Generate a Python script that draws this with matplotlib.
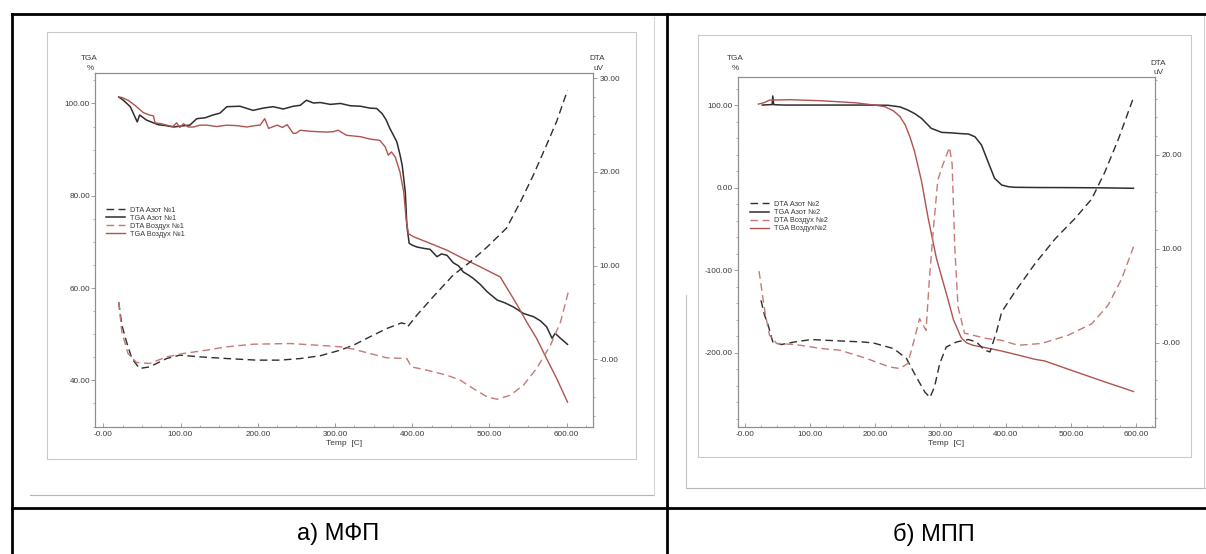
import matplotlib
matplotlib.use("Agg")
import matplotlib.pyplot as plt
from matplotlib.lines import Line2D
from matplotlib.ticker import FixedLocator, FixedFormatter, MultipleLocator

plt.rcParams['font.family'] = ['Liberation Sans', 'DejaVu Sans']

W, H = 1206, 554

# --- panel a) MFP : values ---
t_tga_n1 = [20, 26, 35, 44, 47, 56, 71, 81, 91, 100, 112, 121, 132, 142, 151, 160, 177, 194, 207, 220,
            233, 246, 255, 263, 272, 281, 294, 307, 320, 333, 345, 354, 361, 366, 371, 376, 380, 384, 387, 391,
            393, 396, 400, 406, 415, 423, 432, 438, 445, 453, 460, 466, 473, 479, 488, 497, 510, 520, 531, 544,
            557, 566, 574, 581, 585, 592, 601]
tga_n1 = [101.4, 100.7, 99.3, 96.0, 97.5, 96.4, 95.4, 95.2, 94.9, 95.1, 95.3, 96.7, 96.9, 97.5, 97.9, 99.3,
          99.4, 98.5, 99.0, 99.3, 98.8, 99.4, 99.6, 100.7, 100.1, 100.2, 99.8, 100.0, 99.5, 99.4, 99.0, 98.9,
          97.8, 96.5, 94.6, 93.0, 91.7, 89.0, 86.6, 80.8, 73.6, 69.7, 69.3, 68.9, 68.6, 68.4, 66.8, 67.4, 67.1,
          65.5, 64.8, 63.5, 62.8, 62.1, 60.8, 59.2, 57.4, 56.8, 55.9, 54.5, 53.8, 52.9, 51.6, 49.1, 50.2, 49.1,
          47.8]

t_tga_a1 = [20, 24, 32, 41, 52, 60, 65, 67, 75, 82, 90, 95, 99, 104, 110, 117, 125, 134, 147, 160, 173, 186,
            196, 203, 209, 214, 225, 232, 238, 246, 250, 255, 266, 276, 289, 298, 304, 315, 333, 345, 358, 365,
            369, 373, 378, 384, 389, 392, 395, 402, 423, 445, 466, 488, 501, 514, 523, 536, 548, 561, 574, 587,
            601]
tga_a1 = [101.4, 101.3, 100.7, 99.6, 98.0, 97.5, 97.3, 95.8, 95.6, 95.3, 95.0, 95.8, 94.8, 95.6, 94.9, 94.9,
          95.3, 95.3, 95.0, 95.3, 95.2, 94.9, 95.2, 95.3, 96.7, 94.6, 95.3, 94.8, 95.4, 93.5, 93.6, 94.2, 94.0,
          93.9, 93.8, 93.9, 94.2, 93.1, 92.8, 92.3, 92.0, 90.6, 88.8, 89.5, 88.4, 85.2, 80.8, 75.1, 71.8, 71.1,
          69.7, 68.2, 66.4, 64.6, 63.5, 62.4, 59.9, 56.3, 52.7, 49.1, 44.7, 40.4, 35.3]

t_dta_n1 = [20, 24, 30, 37, 47, 60, 82, 99, 125, 160, 199, 229, 255, 281, 307, 324, 345, 367, 386, 391, 394,
            406, 427, 453, 475, 497, 522, 540, 557, 574, 587, 601]
dta_n1 = [6.1, 3.7, 1.9, 0.1, -0.96, -0.79, 0.1, 0.46, 0.28, 0.1, -0.07, -0.07, 0.1, 0.4, 1.0, 1.53, 2.41,
          3.3, 3.9, 3.8, 3.48, 4.73, 6.68, 9.0, 10.4, 12.0, 14.0, 16.8, 19.7, 22.9, 25.4, 28.7]

t_dta_a1 = [20, 24, 32, 43, 60, 82, 104, 134, 160, 194, 242, 276, 307, 324, 345, 367, 393, 399, 419, 445, 462,
            479, 497, 510, 527, 544, 561, 579, 592, 602]
dta_a1 = [6.15, 2.95, 0.64, -0.32, -0.43, 0.28, 0.64, 1.0, 1.35, 1.63, 1.7, 1.53, 1.35, 1.1, 0.64, 0.18, 0.1,
          -0.79, -1.14, -1.68, -2.2, -3.1, -3.99, -4.24, -3.81, -2.74, -0.96, 1.53, 4.0, 7.2]

# --- panel b) MPP ---
t_tga_n2 = [27, 38, 42, 43, 44.5, 60, 100, 150, 190, 220, 238, 250, 261, 271, 286, 302, 317, 330, 343, 353,
            363, 373, 383, 394, 405, 414, 450, 496, 550, 596]
tga_n2 = [100, 100.5, 100.5, 111, 100.5, 100, 100, 100, 100, 99.7, 97.8, 94, 89.5, 83.9, 71.8, 66.9, 66.3,
          65.5, 64.9, 61.6, 51.6, 31.4, 11.3, 3.1, 1.0, 0.4, 0.1, 0, -0.3, -0.8]

t_tga_a2 = [21, 30, 38, 70, 118, 169, 199, 215, 228, 238, 246, 253, 260, 266, 271, 281, 294, 309, 320, 332,
            340, 350, 370, 394, 420, 445, 460, 496, 547, 596]
tga_a2 = [101.2, 103, 106, 106.5, 105.2, 102.8, 100, 98, 93, 86, 76, 62, 45, 25, 8, -36, -86, -128, -160,
          -182, -188, -191, -194, -198, -203, -208, -210, -220, -234, -247]

t_dta_n2 = [25, 30, 36, 43, 56, 77, 102, 146, 179, 197, 210, 228, 235, 248, 263, 276, 284, 291, 299, 309,
            325, 343, 355, 368, 376, 386, 394, 414, 445, 476, 506, 532, 552, 573, 596]
dta_n2 = [4.5, 3.0, 1.84, 0.07, -0.21, 0.07, 0.32, 0.17, 0.07, -0.04, -0.29, -0.64, -1.0, -1.7, -3.66, -5.26,
          -5.85, -4.72, -2.23, -0.47, 0.07, 0.32, 0.07, -0.82, -1.0, 1.13, 3.26, 5.38, 8.4, 11.06, 13.2, 15.3,
          18.15, 21.7, 26.1]

t_dta_a2 = [22, 31, 38, 49, 77, 118, 146, 187, 222, 238, 250, 261, 268, 278, 283, 289, 296, 304, 314, 318,
            322, 327, 337, 371, 394, 419, 455, 496, 532, 557, 578, 596]
dta_a2 = [7.6, 3.26, 0.78, -0.1, -0.21, -0.64, -0.82, -1.7, -2.6, -2.77, -2.23, 0.6, 2.55, 1.3, 6.63, 11.9,
          17.3, 19.0, 20.8, 19.0, 10.2, 3.8, 1.0, 0.43, 0.24, -0.29, -0.1, 0.78, 2.0, 3.97, 6.8, 10.2]

# --- ticks and labels ---
temp_ticks = [0, 100, 200, 300, 400, 500, 600]
temp_labels = ["-0.00", "100.00", "200.00", "300.00", "400.00", "500.00", "600.00"]

tga1_ticks = [40, 60, 80, 100]
tga1_labels = ["40.00", "60.00", "80.00", "100.00"]
dta1_ticks = [0, 10, 20, 30]
dta1_labels = ["-0.00", "10.00", "20.00", "30.00"]

tga2_ticks = [-200, -100, 0, 100]
tga2_labels = ["-200.00", "-100.00", "0.00", "100.00"]
dta2_ticks = [0, 10, 20]
dta2_labels = ["-0.00", "10.00", "20.00"]

legend1 = ["DTA Азот №1", "TGA Азот №1", "DTA Воздух №1", "TGA Воздух №1"]
legend2 = ["DTA Азот №2", "TGA Азот №2", "DTA Воздух №2", "TGA Воздух№2"]
captions = ["а) МФП", "б) МПП"]

BLACK = "#2e2e2e"
RED = "#b0524f"
RED_DASH = "#c47a77"
AXIS = "#8e8e8e"
SCAN = "#c9c9c9"
TXT = "#3a3a3a"


def fx(x):
    return x / W


def fy(y):
    return 1 - y / H


def line_px(fig, xs, ys, color, lw):
    fig.add_artist(Line2D([fx(x) for x in xs], [fy(y) for y in ys],
                          transform=fig.transFigure, color=color, lw=lw))


def fig_text(fig, x, y, s, size, **kw):
    fig.text(fx(x), fy(y), s, fontsize=size, ha="center", va="center", color=TXT, **kw)


def draw_panel(fig, box, xlim, tga_lim, dta_lim, tga_tk, tga_lb, tga_minor, dta_tk, dta_lb,
               series, names, leg_anchor):
    left, top, right, bottom = box
    ax = fig.add_axes([fx(left), fy(bottom), (right - left) / W, (bottom - top) / H])
    ax2 = ax.twinx()

    t_tn, tn, t_ta, ta, t_dn, dn, t_da, da = series
    h1, = ax2.plot(t_dn, dn, color=BLACK, lw=1.0, dashes=(5.5, 3.2))
    h3, = ax2.plot(t_da, da, color=RED_DASH, lw=1.0, dashes=(5.5, 3.2))
    h2, = ax.plot(t_tn, tn, color=BLACK, lw=1.1)
    h4, = ax.plot(t_ta, ta, color=RED, lw=1.0)

    ax.set_xlim(*xlim)
    ax.set_ylim(*tga_lim)
    ax2.set_ylim(*dta_lim)

    ax.xaxis.set_major_locator(FixedLocator(temp_ticks))
    ax.xaxis.set_major_formatter(FixedFormatter(temp_labels))
    ax.xaxis.set_minor_locator(MultipleLocator(25))
    ax.yaxis.set_major_locator(FixedLocator(tga_tk))
    ax.yaxis.set_major_formatter(FixedFormatter(tga_lb))
    ax.yaxis.set_minor_locator(MultipleLocator(tga_minor))
    ax2.yaxis.set_major_locator(FixedLocator(dta_tk))
    ax2.yaxis.set_major_formatter(FixedFormatter(dta_lb))
    ax2.yaxis.set_minor_locator(MultipleLocator(2))

    for a in (ax, ax2):
        for sp in a.spines.values():
            sp.set_color(AXIS)
            sp.set_linewidth(0.8)
    ax.tick_params(axis="y", which="major", direction="out", length=3, width=0.6, pad=0.6,
                   labelsize=5.9, color=AXIS, labelcolor=TXT)
    ax.tick_params(axis="y", which="minor", direction="out", length=1.6, width=0.5, color=AXIS)
    ax.tick_params(axis="x", which="major", direction="in", length=3, width=0.6, pad=3,
                   labelsize=5.9, color=AXIS, labelcolor=TXT)
    ax.tick_params(axis="x", which="minor", direction="in", length=1.6, width=0.5, color=AXIS)
    ax2.tick_params(axis="y", which="major", direction="out", length=3, width=0.6, pad=1.5,
                    labelsize=5.9, color=AXIS, labelcolor=TXT)
    ax2.tick_params(axis="y", which="minor", direction="out", length=1.6, width=0.5, color=AXIS)

    ax.set_xlabel("Temp  [C]", fontsize=6, color=TXT, labelpad=1.5)

    leg = ax2.legend([h1, h2, h3, h4], names, loc="upper left", bbox_to_anchor=leg_anchor,
                     frameon=False, fontsize=5.3, handlelength=2.6, handletextpad=0.6,
                     labelspacing=0.12, borderaxespad=0, borderpad=0)
    for txt in leg.get_texts():
        txt.set_color(TXT)
    return ax


def main():
    fig = plt.figure(figsize=(W / 100, H / 100), dpi=100)
    fig.patch.set_facecolor("white")

    # scanned page frames
    line_px(fig, [47, 636, 636, 47, 47], [32, 32, 459, 459, 32], SCAN, 0.8)
    line_px(fig, [30, 654], [495, 495], "#b5b5b5", 0.8)
    line_px(fig, [654, 654], [17, 495], "#d5d5d5", 0.8)
    line_px(fig, [698, 1191, 1191, 698, 698], [35, 35, 457, 457, 35], SCAN, 0.8)
    line_px(fig, [686, 1205], [488, 488], "#b5b5b5", 0.8)
    line_px(fig, [686, 686], [295, 488], "#c5c5c5", 0.8)
    line_px(fig, [1204, 1204], [14, 488], "#d0d0d0", 0.8)

    draw_panel(fig, (95, 73, 593, 427), (-10.7, 634), (29.9, 106.6), (-7.2, 30.55),
               tga1_ticks, tga1_labels, 5, dta1_ticks, dta1_labels,
               (t_tga_n1, tga_n1, t_tga_a1, tga_a1, t_dta_n1, dta_n1, t_dta_a1, dta_a1),
               legend1, (0.022, 0.622))
    draw_panel(fig, (738, 77, 1155, 427), (-10.3, 629), (-290, 134), (-9.0, 28.3),
               tga2_ticks, tga2_labels, 20, dta2_ticks, dta2_labels,
               (t_tga_n2, tga_n2, t_tga_a2, tga_a2, t_dta_n2, dta_n2, t_dta_a2, dta_a2),
               legend2, (0.029, 0.646))

    # axis titles
    fig_text(fig, 89, 58, "TGA", 5.9)
    fig_text(fig, 90, 68, "%", 5.9)
    fig_text(fig, 597, 58, "DTA", 5.9)
    fig_text(fig, 598, 68, "uV", 5.9)
    fig_text(fig, 735, 58, "TGA", 5.9)
    fig_text(fig, 735, 68, "%", 5.9)
    fig_text(fig, 1158, 63, "DTA", 5.9)
    fig_text(fig, 1158, 72, "uV", 5.9)

    # table borders
    line_px(fig, [12, 1206], [14, 14], "black", 2)
    line_px(fig, [12, 12], [14, 554], "black", 2)
    line_px(fig, [667, 667], [14, 554], "black", 2)
    line_px(fig, [12, 1206], [508, 508], "black", 2)

    fig.text(fx(338), fy(534), captions[0], fontsize=17, ha="center", va="center", color="black")
    fig.text(fx(934), fy(534), captions[1], fontsize=17, ha="center", va="center", color="black")

    fig.savefig("out.png", dpi=100, facecolor="white")
    plt.close(fig)


if __name__ == "__main__":
    main()
